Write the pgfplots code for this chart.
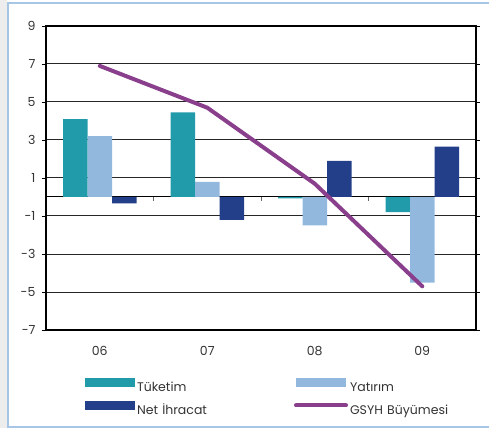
\documentclass[border=0pt]{standalone}
\usepackage{pgfplots}
\pgfplotsset{compat=1.18}
\usepackage{fontspec}
\setmainfont{Poppins}

\definecolor{tuketim}{HTML}{219BA9}
\definecolor{yatirim}{HTML}{93B8DD}
\definecolor{netihr}{HTML}{243F89}
\definecolor{gsyh}{HTML}{8A3F8C}
\definecolor{frameblue}{HTML}{A7C6E6}
\definecolor{sidegray}{HTML}{EDEDED}

\begin{document}
\begin{tikzpicture}
\begin{axis}[
  scale only axis, width=430pt, height=304pt,
  xmin=-0.5, xmax=3.5, ymin=-7, ymax=9,
  xtick={0,1,2,3}, xticklabels={06,07,08,09},
  ytick={-7,-5,...,9},
  xtick style={draw=none},
  ytick style={black, line width=0.8pt},
  tick align=outside, major tick length=4pt,
  ymajorgrids, grid style={black!85, line width=1pt},
  extra y ticks={0}, extra y tick labels={},
  extra y tick style={grid=major, major tick length=0pt, grid style={black, line width=1pt}},
  axis line style={black, line width=1.1pt},
  tick label style={font=\fontsize{12.5}{14}\selectfont, text=black!80},
  /pgf/number format/assume math mode=true,
  xticklabel style={yshift=-9pt},
  yticklabel style={xshift=-3pt},
  legend columns=2,
  legend cell align=left,
  legend style={at={(0.0907,-0.1563)}, anchor=north west, draw=none, fill=none,
    inner sep=0pt, outer sep=0pt, row sep=6.5pt,
    font=\fontsize{12.5}{14}\selectfont, text=black!80,
    nodes={inner sep=0pt, text height=9.5pt, text depth=3pt, text width=157pt, align=left},
    /tikz/every odd column/.append style={column sep=2pt}},
]
\addplot[ybar, bar width=24.5pt, bar shift=-24.5pt, fill=tuketim, draw=none,
  legend image code/.code={\fill[tuketim] (0pt,1pt) rectangle (50pt,10.5pt);}]
  coordinates {(0,4.1) (1,4.45) (2,-0.07) (3,-0.8)};
\addlegendentry{Tüketim}
\addplot[ybar, bar width=24.5pt, bar shift=0pt, fill=yatirim, draw=none,
  legend image code/.code={\fill[yatirim] (0pt,1pt) rectangle (50pt,10.5pt);}]
  coordinates {(0,3.2) (1,0.8) (2,-1.5) (3,-4.5)};
\addlegendentry{Yatırım}
\addplot[ybar, bar width=24.5pt, bar shift=24.5pt, fill=netihr, draw=none,
  legend image code/.code={\fill[netihr] (0pt,1pt) rectangle (50pt,10.5pt);}]
  coordinates {(0,-0.33) (1,-1.2) (2,1.9) (3,2.65)};
\addlegendentry{Net İhracat}
\addplot[sharp plot, no markers, gsyh, line width=4pt, line cap=round, line join=round,
  legend image code/.code={\draw[gsyh, line width=4pt, line cap=round] (0pt,5.8pt) -- (50pt,5.8pt);}]
  coordinates {(0,6.9) (1,4.7) (2,0.7) (3,-4.7)};
\addlegendentry{GSYH Büyümesi}
% separators between year groups
\foreach \s in {0.5,1.5,2.5} {
  \edef\temp{\noexpand\draw[black!60, line width=1pt] (axis cs:\s,0) -- ++(0pt,-4.5pt);}
  \temp
}
\coordinate (LL) at (rel axis cs:0,0);
\end{axis}
% page frame, placed relative to the lower-left corner of the plot area
\pgfresetboundingbox
\begin{scope}[shift={(LL)}, x=1pt, y=1pt, shift={(-46,-98)}]
\useasboundingbox (0,0) rectangle (489,428);
\fill[sidegray] (0,0) rectangle (7,428);
\draw[frameblue, line width=2pt] (8,1.3) -- (8,425) -- (489,425);
\draw[frameblue, line width=2pt] (7,1.3) -- (489,1.3);
\end{scope}
\end{tikzpicture}
\end{document}
